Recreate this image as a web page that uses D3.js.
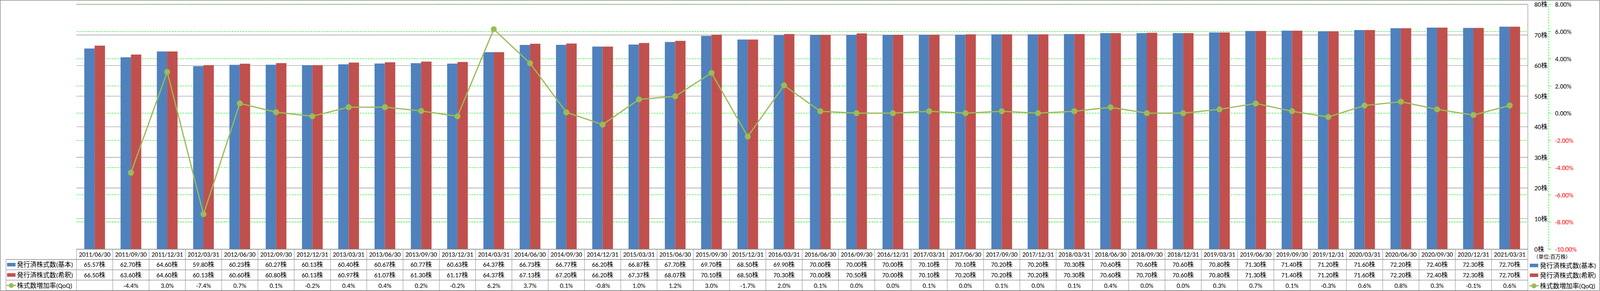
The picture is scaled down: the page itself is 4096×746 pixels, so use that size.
<!DOCTYPE html>
<html><head><meta charset="utf-8">
<script src="https://cdn.jsdelivr.net/npm/d3@7"></script>
<style>
html,body{margin:0;padding:0;background:#fff;overflow:hidden}
text{font-family:Carlito,Calibri,"Liberation Sans","Noto Sans CJK JP",sans-serif;fill:#000}
</style></head><body>
<script>
const categories = ["2011/06/30","2011/09/30","2011/12/31","2012/03/31","2012/06/30","2012/09/30","2012/12/31","2013/03/31","2013/06/30","2013/09/30","2013/12/31","2014/03/31","2014/06/30","2014/09/30","2014/12/31","2015/03/31","2015/06/30","2015/09/30","2015/12/31","2016/03/31","2016/06/30","2016/09/30","2016/12/31","2017/03/31","2017/06/30","2017/09/30","2017/12/31","2018/03/31","2018/06/30","2018/09/30","2018/12/31","2019/03/31","2019/06/30","2019/09/30","2019/12/31","2020/03/31","2020/06/30","2020/09/30","2020/12/31","2021/03/31"];
const basic = [65.57,62.70,64.60,59.80,60.23,60.27,60.13,60.40,60.67,60.77,60.63,64.37,66.73,66.77,66.20,66.87,67.70,69.70,68.50,69.90,70.00,70.00,70.00,70.10,70.10,70.20,70.20,70.30,70.60,70.60,70.60,70.80,71.30,71.40,71.20,71.60,72.20,72.40,72.30,72.70];
const diluted = [66.50,63.60,64.60,60.13,60.60,60.80,60.13,60.97,61.07,61.30,61.17,64.37,67.13,67.20,66.20,67.37,68.07,70.10,68.50,70.30,70.00,70.50,70.00,70.10,70.20,70.20,70.20,70.30,70.60,70.70,70.60,70.80,71.30,71.40,71.20,71.60,72.20,72.40,72.30,72.70];
const qoq = [null,-4.38,3.03,-7.43,0.72,0.07,-0.23,0.44,0.44,0.16,-0.23,6.17,3.67,0.06,-0.84,1.01,1.24,2.96,-1.72,2.04,0.14,0.00,0.00,0.14,0.00,0.14,0.00,0.14,0.43,0.00,0.00,0.28,0.71,0.14,-0.28,0.56,0.84,0.28,-0.14,0.56];
const seriesNames = ["発行済株式数(基本)","発行済株式数(希釈)","株式数増加率(QoQ)"];
const leftTicks = [0,10,20,30,40,50,60,70,80];
const rightTicks = [-10,-8,-6,-4,-2,0,2,4,6,8];
const unitLabel = "（単位:百万株）";

const C_BLUE="#4F81BD", C_RED="#C0504D", C_GREEN="#9BBB59", C_GRID="#868686", C_DASH="#00FF00";
const W=5877,H=1071;
const L=281,R=5612,T=16,B=917;
const rowY=[917,955,993,1031,1070];
const FS=24;

const svg=d3.select("body").append("svg").attr("width",4096).attr("height",746)
  .attr("viewBox",`0 0 ${W} ${H}`).attr("preserveAspectRatio","none");

const x=d3.scaleBand().domain(categories).range([L,R]).padding(0);
const bw=38;
const x1=d3.scaleBand().domain(["b","d"]).range([x.bandwidth()/2-bw,x.bandwidth()/2+bw]).padding(0);
const yL=d3.scaleLinear().domain([0,80]).range([B,T]);
const yR=d3.scaleLinear().domain([-10,8]).range([B,T]);

// outer frame
svg.append("rect").attr("x",1).attr("y",1).attr("width",W-2.5).attr("height",H-2.5)
  .attr("fill","#fff").attr("stroke",C_GRID).attr("stroke-width",2);

// green dashed gridlines (secondary)
svg.append("g").selectAll("line").data(rightTicks).join("line")
  .attr("x1",L).attr("x2",R).attr("y1",d=>yR(d)).attr("y2",d=>yR(d))
  .attr("stroke",C_DASH).attr("stroke-width",1.8).attr("stroke-dasharray","6,4");
// gray gridlines (primary)
svg.append("g").selectAll("line").data(leftTicks).join("line")
  .attr("x1",L).attr("x2",R).attr("y1",d=>yL(d)).attr("y2",d=>yL(d))
  .attr("stroke",C_GRID).attr("stroke-width",1.6);
// right border of plot
svg.append("line").attr("x1",R).attr("x2",R).attr("y1",T).attr("y2",B)
  .attr("stroke",C_GRID).attr("stroke-width",1.6);

// bars
const gBars=svg.append("g");
gBars.selectAll("rect.b").data(basic).join("rect").attr("class","b")
  .attr("x",(d,i)=>x(categories[i])+x1("b")).attr("width",x1.bandwidth())
  .attr("y",d=>yL(d)).attr("height",d=>yL(0)-yL(d)).attr("fill",C_BLUE);
gBars.selectAll("rect.d").data(diluted).join("rect").attr("class","d")
  .attr("x",(d,i)=>x(categories[i])+x1("d")).attr("width",x1.bandwidth())
  .attr("y",d=>yL(d)).attr("height",d=>yL(0)-yL(d)).attr("fill",C_RED);

// line
const cx=i=>x(categories[i])+x.bandwidth()/2;
const line=d3.line().defined(d=>d!==null).x((d,i)=>cx(i)).y(d=>yR(d));
svg.append("path").datum(qoq).attr("d",line).attr("fill","none")
  .attr("stroke",C_GREEN).attr("stroke-width",4.5).attr("stroke-linejoin","round");
svg.append("g").selectAll("circle").data(qoq.map((v,i)=>({v,i})).filter(d=>d.v!==null)).join("circle")
  .attr("cx",d=>cx(d.i)).attr("cy",d=>yR(d.v)).attr("r",11).attr("fill",C_GREEN);

// primary axis (labels on right)
const axL=svg.append("g").attr("transform",`translate(5636,0)`)
  .call(d3.axisRight(yL).tickValues(leftTicks).tickSize(0).tickPadding(0).tickFormat(d=>d+"株"));
axL.select(".domain").remove();
axL.selectAll("text").attr("x",0).attr("dy",null).attr("dominant-baseline","central")
  .attr("font-size",FS).attr("text-anchor","start").style("fill","#000");

// secondary axis
const axR=svg.append("g").attr("transform",`translate(5688,0)`)
  .call(d3.axisRight(yR).tickValues(rightTicks).tickSize(9).tickSizeOuter(0).tickPadding(15)
    .tickFormat(d=>d.toFixed(2)+"%"));
axR.select(".domain").attr("stroke",C_DASH).attr("stroke-width",1.8).attr("stroke-dasharray","6,4");
axR.selectAll(".tick line").attr("stroke",C_DASH).attr("stroke-width",1.8);
axR.selectAll("text").attr("dy",null).attr("dominant-baseline","central").attr("font-size",FS)
  .attr("font-family",null).style("fill",d=>d<0?"#FF0000":"#000");
axR.attr("font-family",null);
axL.attr("font-family",null);

// data table
const gT=svg.append("g");
const hl=[[L,rowY[0]],[22,rowY[1]],[22,rowY[2]],[22,rowY[3]],[22,rowY[4]]];
hl.forEach(([x0,y])=>gT.append("line").attr("x1",x0).attr("x2",R).attr("y1",y).attr("y2",y)
  .attr("stroke",C_GRID).attr("stroke-width",2));
const vx=categories.map(c=>x(c)).concat([R]);
gT.selectAll("line.v").data(vx).join("line").attr("class","v")
  .attr("x1",d=>d).attr("x2",d=>d).attr("y1",rowY[0]).attr("y2",rowY[4])
  .attr("stroke",C_GRID).attr("stroke-width",1.4);
gT.append("line").attr("x1",22).attr("x2",22).attr("y1",rowY[1]).attr("y2",rowY[4])
  .attr("stroke",C_GRID).attr("stroke-width",1.4);

const rowC=i=>(rowY[i]+rowY[i+1])/2;
const cellText=(arr,row,fmt)=>gT.append("g").selectAll("text").data(arr).join("text")
  .attr("x",(d,i)=>cx(i)).attr("y",rowC(row)).attr("text-anchor","middle")
  .attr("dominant-baseline","central").attr("font-size",FS).text(fmt);
cellText(categories,0,d=>d);
cellText(basic,1,d=>d.toFixed(2)+"株");
cellText(diluted,2,d=>d.toFixed(2)+"株");
cellText(qoq,3,d=>d===null?"":d.toFixed(1)+"%");

// legend keys helper
function key(g,kx,cy,type){
  if(type===2){
    g.append("line").attr("x1",kx-2).attr("x2",kx+33).attr("y1",cy).attr("y2",cy)
      .attr("stroke",C_GREEN).attr("stroke-width",4.5);
    g.append("circle").attr("cx",kx+15.5).attr("cy",cy).attr("r",9).attr("fill",C_GREEN);
  } else {
    g.append("rect").attr("x",kx).attr("y",cy-6.5).attr("width",31).attr("height",13)
      .attr("fill",type===0?C_BLUE:C_RED);
  }
}
seriesNames.forEach((n,i)=>{
  const cy=rowC(i+1);
  key(gT,26,cy,i);
  gT.append("text").attr("x",62).attr("y",cy).attr("dominant-baseline","central")
    .attr("font-size",FS).text(n);
});

// right legend
const gL=svg.append("g");
gL.append("text").attr("x",5632).attr("y",946).attr("dominant-baseline","central")
  .attr("font-size",19).text(unitLabel);
const legY=[977,1013,1052];
seriesNames.forEach((n,i)=>{
  key(gL,5619,legY[i],i);
  gL.append("text").attr("x",5656).attr("y",legY[i]).attr("dominant-baseline","central")
    .attr("font-size",FS).text(n);
});
</script></body></html>
